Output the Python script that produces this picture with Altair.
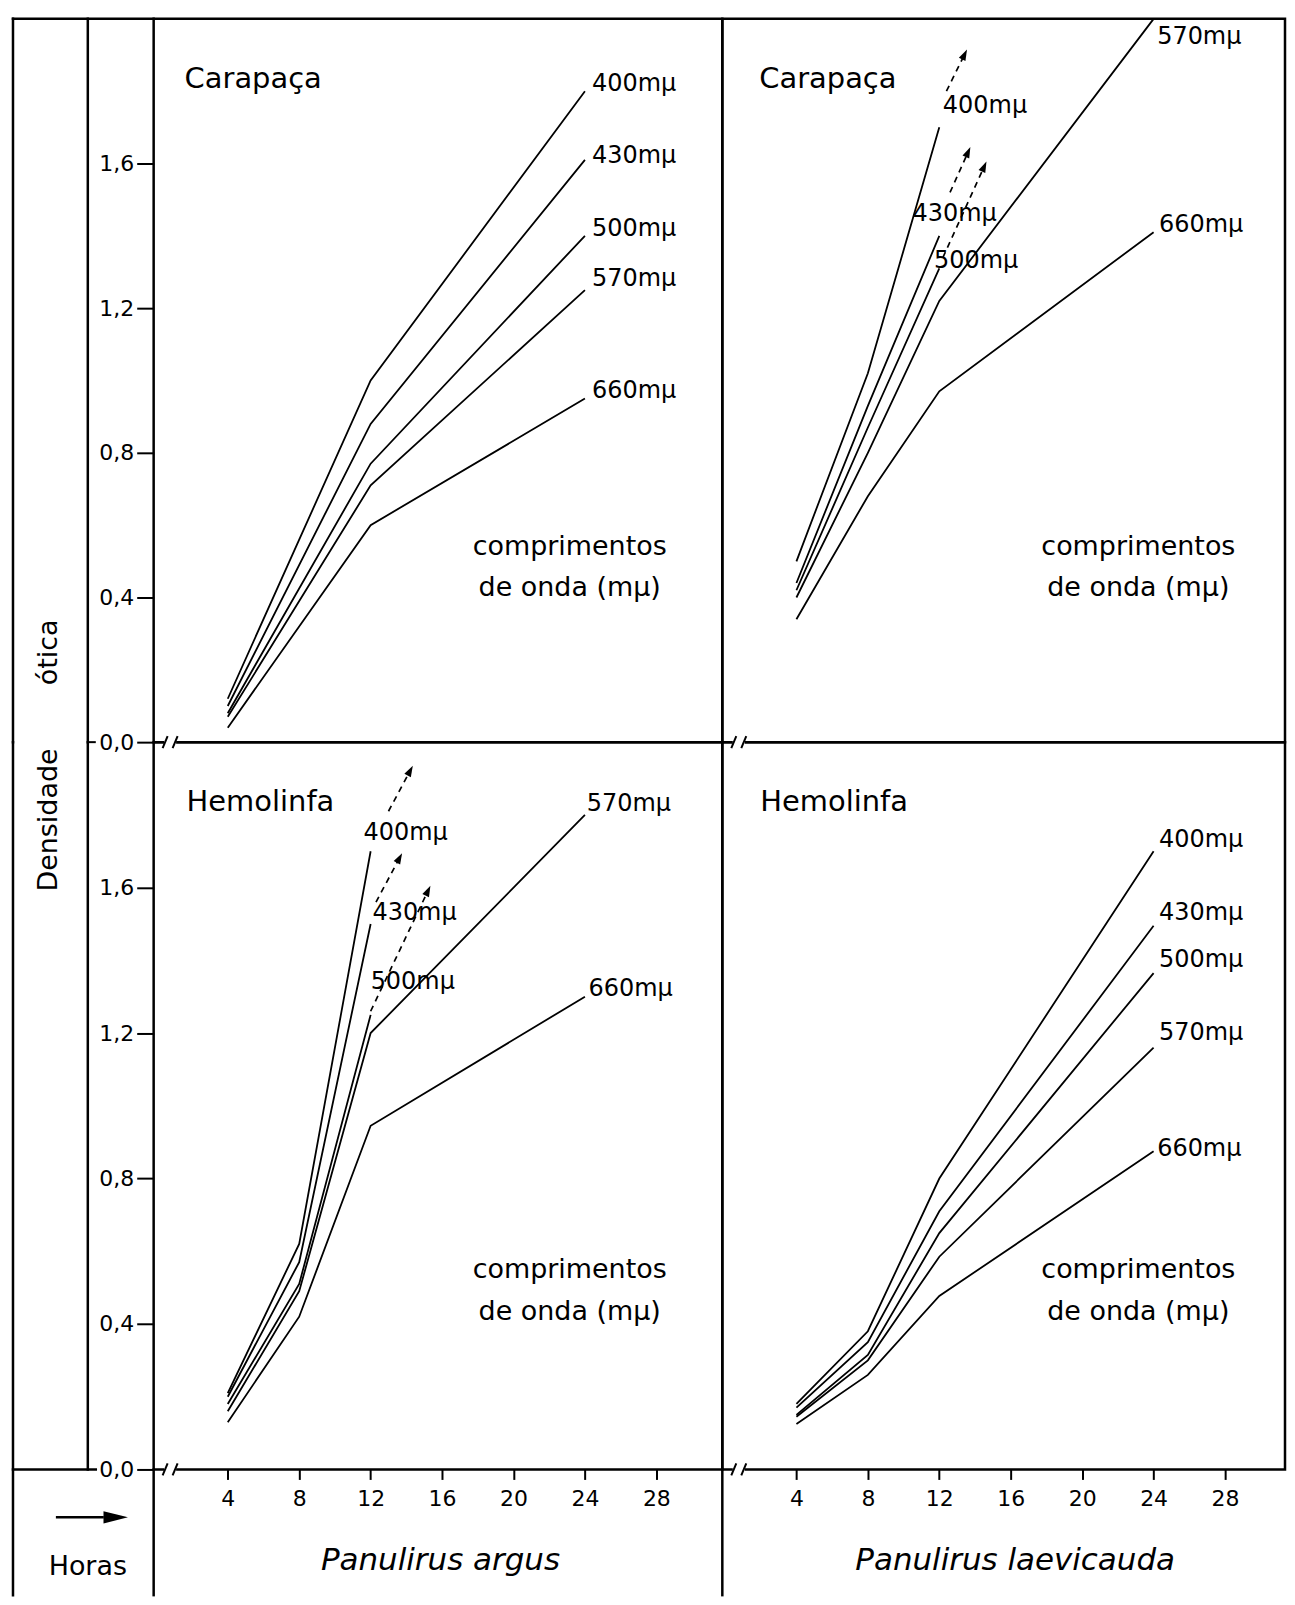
import math
import altair as alt
import pandas as pd

FONT = "DejaVu Sans"

WAVES = ["400mμ", "430mμ", "500mμ", "570mμ", "660mμ"]
X_TICKS = [4, 8, 12, 16, 20, 24, 28]
Y_TICKS = [0.0, 0.4, 0.8, 1.2, 1.6]

# ---------------- Panulirus argus - Carapaça ----------------
ARG_CAR_H = [4, 12, 24]
ARG_CAR_400 = [0.12, 1.00, 1.80]
ARG_CAR_430 = [0.10, 0.88, 1.61]
ARG_CAR_500 = [0.08, 0.77, 1.40]
ARG_CAR_570 = [0.07, 0.71, 1.25]
ARG_CAR_660 = [0.04, 0.60, 0.95]
ARG_CAR_LABEL_H = [24.4, 24.4, 24.4, 24.4, 24.4]
ARG_CAR_LABEL_V = [1.82, 1.62, 1.42, 1.28, 0.97]

# ---------------- Panulirus laevicauda - Carapaça ----------------
LAE_CAR_H3 = [4, 8, 12]
LAE_CAR_H4 = [4, 8, 12, 24]
LAE_CAR_400 = [0.50, 1.02, 1.70]
LAE_CAR_430 = [0.44, 0.93, 1.40]
LAE_CAR_500 = [0.42, 0.87, 1.31]
LAE_CAR_570 = [0.40, 0.80, 1.22, 2.00]
LAE_CAR_660 = [0.34, 0.68, 0.97, 1.41]
LAE_CAR_EXT_WAVES = ["400mμ", "430mμ", "500mμ"]
LAE_CAR_EXT_H = [[12.4, 13.4], [12.6, 13.6], [12.2, 14.5]]
LAE_CAR_EXT_V = [[1.80, 1.90], [1.52, 1.63], [1.34, 1.59]]
LAE_CAR_LABEL_H = [12.2, 10.5, 11.7, 24.2, 24.3]
LAE_CAR_LABEL_V = [1.76, 1.46, 1.33, 1.95, 1.43]

# ---------------- Panulirus argus - Hemolinfa ----------------
ARG_HEM_H3 = [4, 8, 12]
ARG_HEM_H4 = [4, 8, 12, 24]
ARG_HEM_400 = [0.21, 0.62, 1.70]
ARG_HEM_430 = [0.20, 0.57, 1.50]
ARG_HEM_500 = [0.18, 0.51, 1.25]
ARG_HEM_570 = [0.16, 0.49, 1.20, 1.80]
ARG_HEM_660 = [0.13, 0.42, 0.945, 1.30]
ARG_HEM_EXT_WAVES = ["400mμ", "430mμ", "500mμ"]
ARG_HEM_EXT_H = [[13.0, 14.2], [12.3, 13.6], [12.0, 15.2]]
ARG_HEM_EXT_V = [[1.81, 1.92], [1.56, 1.68], [1.26, 1.59]]
ARG_HEM_LABEL_H = [11.6, 12.1, 12.0, 24.1, 24.2]
ARG_HEM_LABEL_V = [1.75, 1.53, 1.34, 1.83, 1.32]

# ---------------- Panulirus laevicauda - Hemolinfa ----------------
LAE_HEM_H = [4, 8, 12, 24]
LAE_HEM_400 = [0.18, 0.38, 0.80, 1.70]
LAE_HEM_430 = [0.17, 0.35, 0.71, 1.495]
LAE_HEM_500 = [0.15, 0.315, 0.65, 1.365]
LAE_HEM_570 = [0.145, 0.30, 0.585, 1.16]
LAE_HEM_660 = [0.125, 0.26, 0.477, 0.875]
LAE_HEM_LABEL_H = [24.3, 24.3, 24.3, 24.3, 24.2]
LAE_HEM_LABEL_V = [1.73, 1.53, 1.40, 1.20, 0.88]

# ---------------- layout constants ----------------
W_L, W_R = 570, 564
H_T, H_B = 725, 729
X_MIN = -0.15
PX_H = 17.9
X_DOM_L = [X_MIN, X_MIN + W_L / PX_H]
X_DOM_R = [X_MIN, X_MIN + W_R / PX_H]
Y_DOM = [0.0, 2.0]
PX_V = H_T / (Y_DOM[1] - Y_DOM[0])
EXT = 126
LW = 2.5
OUTER = -141
INNER = -66
DUMMY = pd.DataFrame({"k": [0]})
HEAD = "M0,-1L0.6,0.8L-0.6,0.8Z"
ARROW_R = "M1,0L-1,-0.5L-1,0.5Z"


def lines_df(series):
    rows = []
    for wave, hs, vs in series:
        for h, v in zip(hs, vs):
            rows.append({"wave": wave, "h": h, "v": v})
    return pd.DataFrame(rows)


def ext_dfs(waves, hh, vv):
    rows, heads = [], []
    for wave, hs, vs in zip(waves, hh, vv):
        for h, v in zip(hs, vs):
            rows.append({"wave": wave, "h": h, "v": v})
        dx = (hs[1] - hs[0]) * PX_H
        dy = (vs[1] - vs[0]) * PX_V
        heads.append({"wave": wave, "h": hs[1], "v": vs[1],
                      "ang": math.degrees(math.atan2(dx, dy))})
    return pd.DataFrame(rows), pd.DataFrame(heads)


def labels_df(hs, vs):
    return pd.DataFrame({"wave": WAVES, "h": hs, "v": vs})


def rule(x1, x2, y1, y2, width=LW, color="black", cap="square"):
    return alt.Chart(DUMMY).mark_rule(color=color, strokeWidth=width, strokeCap=cap).encode(
        x=alt.value(x1), x2=alt.value(x2), y=alt.value(y1), y2=alt.value(y2))


def text(t, x, y, size, align="left", angle=None, style=None):
    kw = dict(text=t, fontSize=size, font=FONT, color="black", align=align, baseline="middle")
    if angle is not None:
        kw["angle"] = angle
    if style is not None:
        kw["fontStyle"] = style
    return alt.Chart(DUMMY).mark_text(**kw).encode(x=alt.value(x), y=alt.value(y))


def breaks(y):
    return [rule(10.5, 22.5, y, y, width=8, color="white", cap="butt"),
            rule(9, 14, y + 6, y - 6, width=2, cap="butt"),
            rule(19, 24, y + 6, y - 6, width=2, cap="butt")]


def panel(ldf, ext, lab, title_text, title_x, left, bottom, species, extra):
    width = W_L if left else W_R
    height = H_B if bottom else H_T
    xs = alt.Scale(domain=X_DOM_L if left else X_DOM_R, nice=False, zero=False)
    ys = alt.Scale(domain=Y_DOM, nice=False, zero=False)
    if bottom:
        xenc = alt.X("h:Q", scale=xs, title=species,
                     axis=alt.Axis(values=X_TICKS, tickSize=10, labelPadding=9, labelAngle=0,
                                   labelFontSize=22, titleFontStyle="italic",
                                   titleFontSize=31, titlePadding=36,
                                   titleX=width / 2 + (2 if left else 11)))
    else:
        xenc = alt.X("h:Q", scale=xs, axis=None)
    if left:
        yenc = alt.Y("v:Q", scale=ys, title=None,
                     axis=alt.Axis(values=Y_TICKS, tickSize=17, labelPadding=3,
                                   labelFontSize=22,
                                   labelExpr="replace(format(datum.value, '.1f'), '.', ',')"))
    else:
        yenc = alt.Y("v:Q", scale=ys, axis=None)

    layers = [alt.Chart(ldf).mark_line(color="black", strokeWidth=1.8).encode(
        x=xenc, y=yenc, detail="wave:N", order="h:Q")]
    if ext is not None:
        edf, hdf = ext
        layers.append(alt.Chart(edf).mark_line(color="black", strokeWidth=1.7,
                                               strokeDash=[6, 5]).encode(
            x=xenc, y=yenc, detail="wave:N", order="h:Q"))
        layers.append(alt.Chart(hdf).mark_point(shape=HEAD, filled=True, color="black",
                                                opacity=1, size=150).encode(
            x=xenc, y=yenc, angle=alt.Angle("ang:Q", scale=None)))
    layers.append(alt.Chart(lab).mark_text(font=FONT, fontSize=24, color="black",
                                           align="left", baseline="middle").encode(
        x=xenc, y=yenc, text="wave:N"))
    layers.append(text(title_text, title_x, 60, 29))
    layers.append(text("comprimentos", 417, 529, 27, align="center"))
    layers.append(text("de onda  (mμ)", 417, 571, 27, align="center"))
    layers.extend(extra)
    return alt.layer(*layers).properties(width=width, height=height)


tl_extra = [
    rule(OUTER, 0, 0, 0),
    rule(OUTER, OUTER, 0, H_T),
    rule(INNER, INNER, 0, H_T),
]
TL = panel(lines_df([(WAVES[0], ARG_CAR_H, ARG_CAR_400), (WAVES[1], ARG_CAR_H, ARG_CAR_430),
                     (WAVES[2], ARG_CAR_H, ARG_CAR_500), (WAVES[3], ARG_CAR_H, ARG_CAR_570),
                     (WAVES[4], ARG_CAR_H, ARG_CAR_660)]),
           None, labels_df(ARG_CAR_LABEL_H, ARG_CAR_LABEL_V),
           "Carapaça", 31, True, False, None, tl_extra)

TR = panel(lines_df([(WAVES[0], LAE_CAR_H3, LAE_CAR_400), (WAVES[1], LAE_CAR_H3, LAE_CAR_430),
                     (WAVES[2], LAE_CAR_H3, LAE_CAR_500), (WAVES[3], LAE_CAR_H4, LAE_CAR_570),
                     (WAVES[4], LAE_CAR_H4, LAE_CAR_660)]),
           ext_dfs(LAE_CAR_EXT_WAVES, LAE_CAR_EXT_H, LAE_CAR_EXT_V),
           labels_df(LAE_CAR_LABEL_H, LAE_CAR_LABEL_V),
           "Carapaça", 37, False, False, None, [])

bl_extra = [
    rule(OUTER, OUTER, 0, H_B + EXT),
    rule(INNER, INNER, 0, H_B),
    rule(OUTER, INNER + 8, H_B, H_B),
    rule(INNER, INNER + 8, 0, 0, width=2, cap="butt"),
    rule(0, 0, H_B, H_B + EXT),
    rule(-98, -50, H_B + 48, H_B + 48, width=2.5, cap="butt"),
    alt.Chart(DUMMY).mark_point(shape=ARROW_R, filled=True, color="black", opacity=1,
                                size=600).encode(x=alt.value(-38), y=alt.value(H_B + 48)),
    text("Horas", -66, H_B + 98, 27, align="center"),
    text("Densidade", -105, 78, 27, align="center", angle=270),
    text("ótica", -105, -90, 27, align="center", angle=270),
] + breaks(0) + breaks(H_B)

BL = panel(lines_df([(WAVES[0], ARG_HEM_H3, ARG_HEM_400), (WAVES[1], ARG_HEM_H3, ARG_HEM_430),
                     (WAVES[2], ARG_HEM_H3, ARG_HEM_500), (WAVES[3], ARG_HEM_H4, ARG_HEM_570),
                     (WAVES[4], ARG_HEM_H4, ARG_HEM_660)]),
           ext_dfs(ARG_HEM_EXT_WAVES, ARG_HEM_EXT_H, ARG_HEM_EXT_V),
           labels_df(ARG_HEM_LABEL_H, ARG_HEM_LABEL_V),
           "Hemolinfa", 33, True, True, "Panulirus argus", bl_extra)

br_extra = [rule(0, 0, H_B, H_B + EXT)] + breaks(0) + breaks(H_B)

BR = panel(lines_df([(WAVES[0], LAE_HEM_H, LAE_HEM_400), (WAVES[1], LAE_HEM_H, LAE_HEM_430),
                     (WAVES[2], LAE_HEM_H, LAE_HEM_500), (WAVES[3], LAE_HEM_H, LAE_HEM_570),
                     (WAVES[4], LAE_HEM_H, LAE_HEM_660)]),
           None, labels_df(LAE_HEM_LABEL_H, LAE_HEM_LABEL_V),
           "Hemolinfa", 38, False, True, "Panulirus laevicauda", br_extra)

chart = alt.concat(TL, TR, BL, BR, columns=2, spacing=0, bounds="flush").properties(
    padding={"left": 1, "top": 4, "right": 0, "bottom": 0}
).configure_view(
    stroke="black", strokeWidth=LW
).configure_axis(
    labelFont=FONT, labelColor="black", tickColor="black", tickWidth=2,
    domain=False, grid=False, titleFont=FONT, titleColor="black", titleFontWeight="normal"
)

chart.save("out.html", embed_options={"renderer": "svg", "actions": False})
